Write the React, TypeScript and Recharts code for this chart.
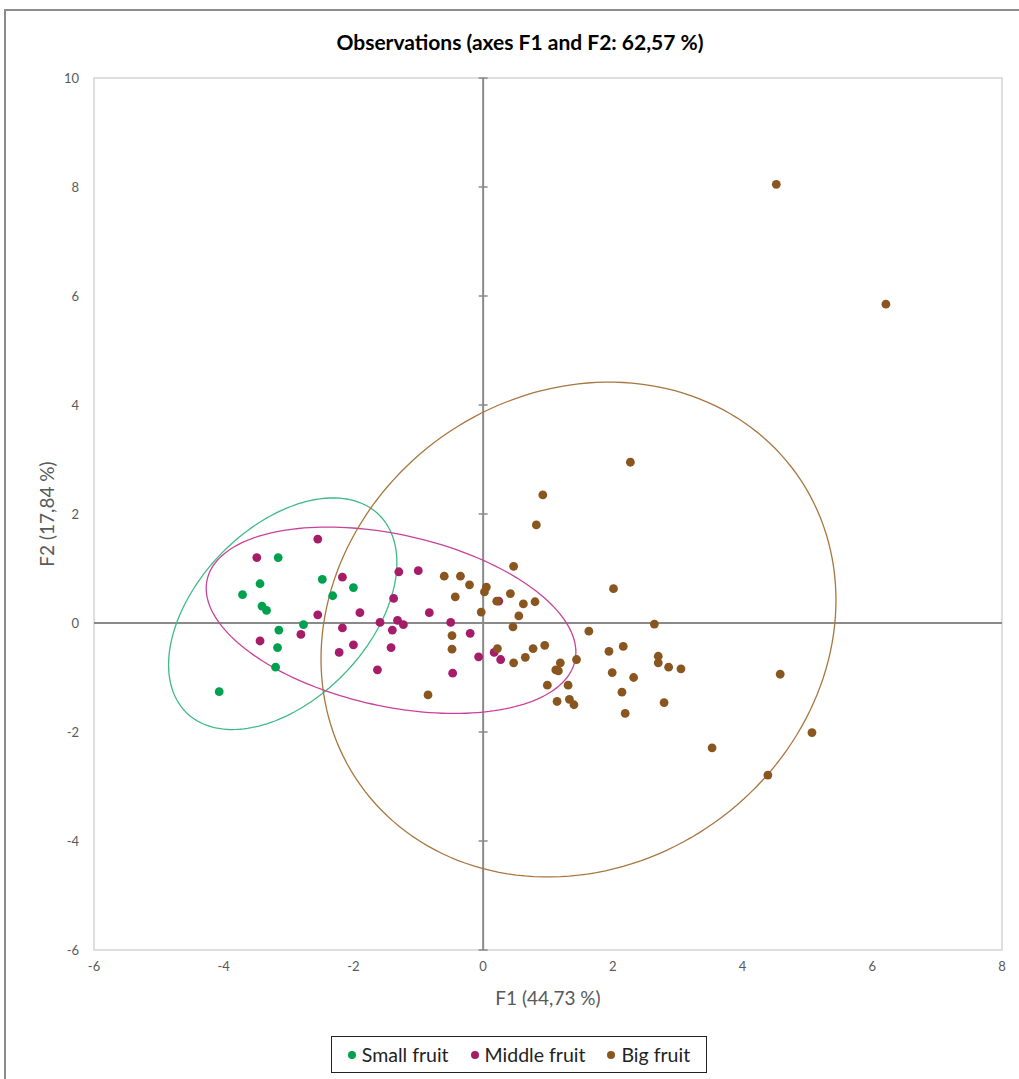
import React from "react";
import { ScatterChart, Scatter, XAxis, YAxis, ReferenceLine, ReferenceArea } from "recharts";

const xTicks = [-6, -4, -2, 0, 2, 4, 6, 8];
const yTicks = [-6, -4, -2, 0, 2, 4, 6, 8, 10];

// F1 / F2 coordinates
const smallFruit = [
  [-3.16, 1.2], [-3.44, 0.72], [-3.71, 0.52], [-2.48, 0.8], [-2.0, 0.65], [-2.32, 0.5],
  [-3.41, 0.31], [-3.34, 0.23], [-3.15, -0.13], [-2.77, -0.03], [-3.17, -0.45], [-3.2, -0.81],
  [-4.07, -1.26],
];

const middleFruit = [
  [-2.55, 1.54], [-3.49, 1.2], [-1.3, 0.94], [-1.0, 0.96], [-2.17, 0.84], [-1.38, 0.45],
  [-2.55, 0.15], [-1.9, 0.19], [-0.83, 0.19], [-1.59, 0.01], [-1.32, 0.05], [-1.23, -0.03],
  [-0.5, 0.01], [-2.17, -0.09], [-1.4, -0.13], [-2.81, -0.21], [-0.2, -0.19], [-3.44, -0.33],
  [-2.0, -0.4], [-1.42, -0.45], [-2.22, -0.54], [-0.07, -0.62], [-1.63, -0.86], [-0.47, -0.92],
  [0.17, -0.54], [0.27, -0.67], [0.24, 0.4],
];

const bigFruit = [
  [4.52, 8.05], [6.21, 5.85], [2.27, 2.95], [0.92, 2.35], [0.82, 1.8], [0.47, 1.04], [2.01, 0.63],
  [-0.6, 0.86], [-0.35, 0.86], [-0.21, 0.7], [0.05, 0.66], [0.02, 0.57], [-0.43, 0.48], [0.42, 0.54],
  [0.21, 0.4], [0.62, 0.35], [0.8, 0.39], [-0.03, 0.2], [0.55, 0.13], [0.46, -0.07], [-0.48, -0.23],
  [-0.48, -0.48], [0.22, -0.47], [0.95, -0.41], [0.77, -0.47], [0.65, -0.63], [0.47, -0.73],
  [1.19, -0.73], [1.44, -0.67], [1.12, -0.86], [1.16, -0.88], [0.99, -1.14], [1.31, -1.14],
  [1.14, -1.44], [1.33, -1.4], [1.4, -1.5], [-0.85, -1.32], [1.63, -0.15], [1.94, -0.52],
  [2.16, -0.43], [2.64, -0.02], [2.7, -0.61], [2.7, -0.73], [2.86, -0.81], [3.05, -0.84],
  [1.99, -0.91], [2.32, -1.0], [2.14, -1.27], [2.79, -1.46], [2.19, -1.66], [4.58, -0.94],
  [5.07, -2.01], [3.53, -2.29], [4.39, -2.79],
];

// confidence ellipses: centre, half extents along F1/F2, correlation
const smallEllipse = { cx: -3.09, cy: 0.17, sx: 1.76, sy: 2.125, r: 0.441 };
const middleEllipse = { cx: -1.42, cy: 0.05, sx: 2.85, sy: 1.71, r: -0.343 };
const bigEllipse = { cx: 1.47, cy: -0.12, sx: 3.97, sy: 4.54, r: 0.119 };

const series = [
  { name: "Small fruit", color: "#00a14e", ring: "#3dbb86", pts: smallFruit, ell: smallEllipse },
  { name: "Middle fruit", color: "#a61c68", ring: "#c9429a", pts: middleFruit, ell: middleEllipse },
  { name: "Big fruit", color: "#8a561f", ring: "#a8763f", pts: bigFruit, ell: bigEllipse },
];

const toRows = (pts: number[][]) => pts.map(([x, y]) => ({ x, y }));

const outline = (e: { cx: number; cy: number; sx: number; sy: number; r: number }) => {
  const out = [];
  for (let i = 0; i <= 180; i++) {
    const t = (i / 180) * Math.PI * 2;
    out.push({
      x: e.cx + e.sx * Math.cos(t),
      y: e.cy + e.sy * (e.r * Math.cos(t) + Math.sqrt(1 - e.r * e.r) * Math.sin(t)),
    });
  }
  return out;
};

const font = "Lato, 'Open Sans', sans-serif";
const grey = "#595959";

const App = () => {
  return (
    <div style={{ position: "absolute", left: 0, top: 0, width: 1019, height: 1079, background: "#fff", fontFamily: font }}>
      <div style={{ position: "absolute", left: 4, top: 9, right: 0, bottom: 0, borderTop: "2px solid #8c8c8c", borderLeft: "2px solid #8c8c8c" }} />
      <div style={{ position: "absolute", left: 0, width: 1040, top: 29, textAlign: "center", fontWeight: 700, fontSize: 21, color: "#000" }}>
        Observations (axes F1 and F2: 62,57 %)
      </div>
      <ScatterChart width={1019} height={1079} margin={{ top: 78, right: 17, bottom: 99, left: 4 }}>
        <XAxis
          type="number"
          dataKey="x"
          domain={[-6, 8]}
          ticks={xTicks}
          axisLine={false}
          tickLine={false}
          tickMargin={6}
          height={30}
          tick={{ fill: grey, fontSize: 13, fontFamily: font }}
        />
        <YAxis
          type="number"
          dataKey="y"
          domain={[-6, 10]}
          ticks={yTicks}
          axisLine={false}
          tickLine={false}
          tickMargin={9}
          width={90}
          tick={{ fill: grey, fontSize: 13, fontFamily: font }}
        />
        <ReferenceArea x1={-6} x2={8} y1={-6} y2={10} fill="none" stroke="#d4d4d4" strokeWidth={1.5} />
        <ReferenceLine x={0} stroke="#8a8a8a" strokeWidth={2} />
        <ReferenceLine y={0} stroke="#8a8a8a" strokeWidth={2} />
        <Scatter
          data={yTicks.map((y) => ({ x: 0, y }))}
          isAnimationActive={false}
          shape={(p: any) => <line x1={p.cx - 4.5} x2={p.cx + 4.5} y1={p.cy} y2={p.cy} stroke="#8a8a8a" strokeWidth={1.5} />}
        />
        {series.map((s) => (
          <Scatter
            key={s.name + "-ell"}
            data={outline(s.ell)}
            isAnimationActive={false}
            line={{ stroke: s.ring, strokeWidth: 1.3 }}
            lineType="joint"
            shape={() => <g />}
          />
        ))}
        {series.map((s) => (
          <Scatter
            key={s.name}
            name={s.name}
            data={toRows(s.pts)}
            isAnimationActive={false}
            shape={(p: any) => <circle cx={p.cx} cy={p.cy} r={4.4} fill={s.color} />}
          />
        ))}
      </ScatterChart>
      <div style={{ position: "absolute", left: 348, width: 400, top: 986, textAlign: "center", fontSize: 19, color: grey }}>
        F1 (44,73 %)
      </div>
      <div
        style={{
          position: "absolute", left: 47, top: 514, width: 200, marginLeft: -100, marginTop: -12, height: 24, lineHeight: "24px",
          textAlign: "center", fontSize: 19, color: grey, transform: "rotate(-90deg)",
        }}
      >
        F2 (17,84 %)
      </div>
      <div
        style={{
          position: "absolute", left: 331, top: 1036, width: 374, height: 35, border: "1px solid #222",
          display: "flex", alignItems: "center", justifyContent: "center", gap: 22, fontSize: 19.5, color: "#222",
        }}
      >
        {series.map((s) => (
          <div key={s.name} style={{ display: "flex", alignItems: "center", gap: 6 }}>
            <span style={{ width: 8, height: 8, borderRadius: 4, background: s.color, display: "inline-block" }} />
            <span>{s.name}</span>
          </div>
        ))}
      </div>
    </div>
  );
};

export default App;
